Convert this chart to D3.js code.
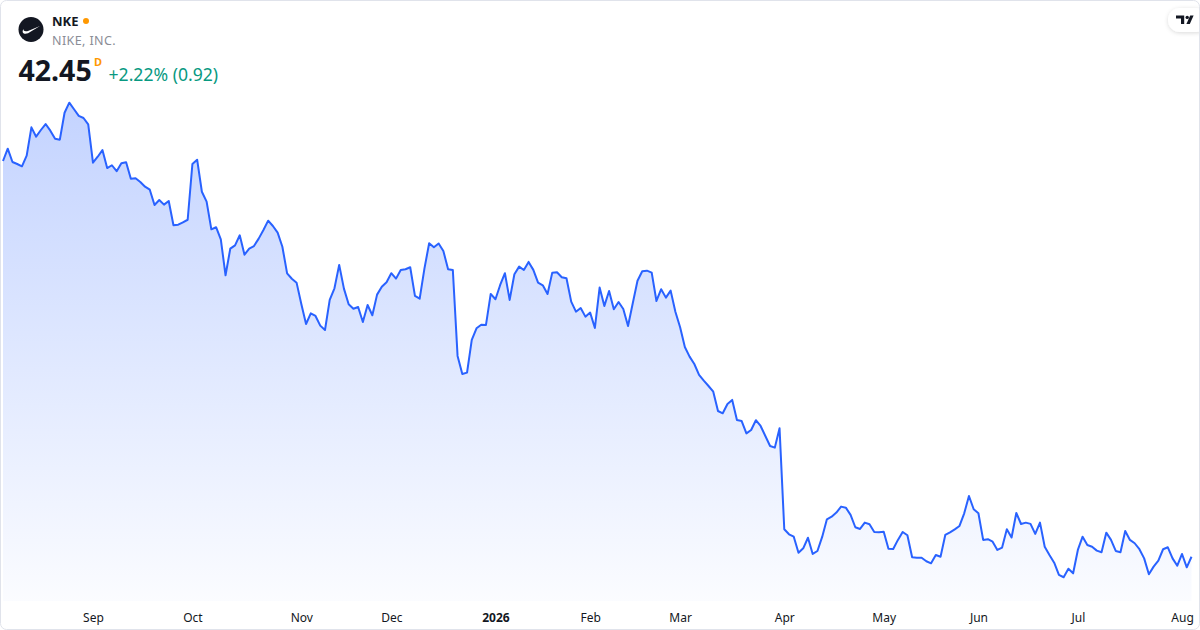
<!DOCTYPE html>
<html>
<head>
<meta charset="utf-8">
<script src="https://cdn.jsdelivr.net/npm/d3@7.9.0/dist/d3.min.js"></script>
<style>
  html, body { margin: 0; padding: 0; background: #fff; }
  #chart svg { display: block; font-family: "Noto Sans", "Open Sans", sans-serif; }
</style>
</head>
<body>
<div id="chart"></div>
<script>
// daily closes, one per trading day (Aug 2025 -> Aug 2026)
const closes = [
  76.80, 77.87, 76.71, 76.54, 76.34, 77.26, 79.72, 78.91, 79.49, 80.01,
  79.43, 78.73, 78.65, 80.99, 81.86, 81.29, 80.71, 80.53, 79.98, 76.65,
  77.17, 77.75, 76.19, 76.43, 75.91, 76.60, 76.69, 75.26, 75.30, 74.98,
  74.57, 74.31, 72.98, 73.41, 73.01, 73.33, 71.22, 71.27, 71.48, 71.70,
  76.54, 76.91, 74.13, 73.27, 70.87, 71.05, 70.00, 66.88, 69.19, 69.48,
  70.35, 68.67, 69.20, 69.42, 70.06, 70.81, 71.62, 71.16, 70.58, 69.36,
  67.05, 66.58, 66.24, 64.39, 62.65, 63.58, 63.35, 62.51, 62.13, 64.74,
  65.75, 67.78, 65.72, 64.36, 63.98, 64.13, 62.83, 64.30, 63.41, 65.20,
  65.89, 66.28, 67.06, 66.59, 67.34, 67.40, 67.58, 65.09, 64.85, 67.46,
  69.66, 69.31, 69.64, 68.99, 67.40, 67.34, 59.88, 58.31, 58.43, 61.27,
  62.28, 62.59, 62.57, 65.26, 64.80, 66.04, 67.06, 64.74, 66.97, 67.63,
  67.34, 68.04, 67.35, 66.24, 66.01, 65.26, 67.11, 67.14, 66.71, 66.62,
  64.59, 63.72, 64.04, 63.29, 63.64, 62.31, 65.81, 64.22, 65.52, 63.93,
  64.56, 63.95, 62.48, 64.45, 66.41, 67.23, 67.28, 67.11, 64.65, 65.67,
  64.94, 65.55, 63.72, 62.37, 60.66, 59.82, 59.18, 58.23, 57.73, 57.27,
  56.78, 55.10, 54.90, 55.71, 56.06, 54.32, 54.23, 53.16, 53.45, 54.30,
  53.80, 52.93, 52.06, 51.92, 53.60, 44.83, 44.40, 44.19, 42.80, 43.18,
  44.10, 42.69, 42.95, 44.17, 45.70, 45.93, 46.28, 46.80, 46.71, 46.08,
  45.01, 44.86, 45.41, 45.27, 44.60, 44.57, 44.61, 43.15, 43.12, 43.91,
  44.60, 44.31, 42.40, 42.37, 42.36, 42.06, 41.88, 42.60, 42.45, 44.34,
  44.57, 44.83, 45.12, 46.22, 47.72, 46.57, 46.22, 43.91, 43.97, 43.76,
  43.04, 43.25, 44.83, 44.12, 46.25, 45.29, 45.41, 45.30, 44.43, 45.41,
  43.32, 42.60, 41.93, 40.87, 40.67, 41.41, 41.01, 43.04, 44.19, 43.47,
  43.32, 42.98, 42.84, 44.54, 43.91, 42.95, 42.84, 44.69, 43.91, 43.62,
  43.10, 42.31, 40.93, 41.59, 42.11, 43.10, 43.27, 42.31, 41.67, 42.69,
  41.53, 42.45
];

// month labels and the trading-day index they sit on
const tickLabels = ['Sep', 'Oct', 'Nov', 'Dec', '2026', 'Feb', 'Mar', 'Apr', 'May', 'Jun', 'Jul', 'Aug'];
const tickIndex  = [19, 40, 63, 82, 104, 124, 143, 165, 186, 206, 227, 249];

const symbol = 'NKE';
const company = 'NIKE, INC.';
const lastPrice = '42.45';
const change = '+2.22% (0.92)';

const width = 1200;
const height = 630;
const plotBottom = 601;

const svg = d3.select('#chart')
  .append('svg')
  .attr('width', width)
  .attr('height', height)
  .attr('viewBox', `0 0 ${width} ${height}`);

const defs = svg.append('defs');

const grad = defs.append('linearGradient')
  .attr('id', 'areaFill')
  .attr('gradientUnits', 'userSpaceOnUse')
  .attr('x1', 0).attr('x2', 0)
  .attr('y1', 100).attr('y2', plotBottom);
grad.append('stop').attr('offset', 0).attr('stop-color', '#2962ff').attr('stop-opacity', 0.28);
grad.append('stop').attr('offset', 1).attr('stop-color', '#2962ff').attr('stop-opacity', 0.02);

const shadow = defs.append('filter')
  .attr('id', 'pillShadow')
  .attr('x', '-50%').attr('y', '-50%')
  .attr('width', '200%').attr('height', '200%');
shadow.append('feDropShadow')
  .attr('dx', 0).attr('dy', 1)
  .attr('stdDeviation', 2)
  .attr('flood-color', '#000')
  .attr('flood-opacity', 0.15);

const xScale = d3.scaleLinear()
  .domain([0, closes.length - 1])
  .range([3, 1191.5]);

const yScale = d3.scaleLinear()
  .domain([38, 86])
  .range([608, 55]);

// area + line
const area = d3.area()
  .x((d, i) => xScale(i))
  .y0(plotBottom)
  .y1((d) => yScale(d));

const line = d3.line()
  .x((d, i) => xScale(i))
  .y((d) => yScale(d));

svg.append('path')
  .datum(closes)
  .attr('d', area)
  .attr('fill', 'url(#areaFill)');

svg.append('path')
  .datum(closes)
  .attr('d', line)
  .attr('fill', 'none')
  .attr('stroke', '#2962ff')
  .attr('stroke-width', 2)
  .attr('stroke-linejoin', 'round');

// x axis (labels only)
const xAxis = d3.axisBottom(xScale)
  .tickValues(tickIndex)
  .tickFormat((d, i) => tickLabels[i])
  .tickSize(0)
  .tickPadding(0);

const gx = svg.append('g')
  .attr('transform', 'translate(0, 613)')
  .call(xAxis);

gx.select('.domain').remove();
gx.selectAll('text')
  .attr('dy', '0.71em')
  .attr('font-family', '"Noto Sans", "Open Sans", sans-serif')
  .attr('font-size', 12)
  .attr('fill', '#131722')
  .attr('font-weight', (d, i) => (tickLabels[i] === '2026' ? 700 : 400));

// header
const header = svg.append('g');

header.append('circle')
  .attr('cx', 31).attr('cy', 29.5).attr('r', 12.5)
  .attr('fill', '#131722');

header.append('path')
  .attr('transform', 'translate(31, 29.5)')
  .attr('d', 'M-7.5,-0.5 C-9.8,3.2 -7.2,5.2 -3,3.8 L9,-3.6 L-2.4,1.2 C-5.6,2.4 -7.8,1.6 -7.5,-0.5 Z')
  .attr('fill', '#fff');

header.append('text')
  .attr('x', 52).attr('y', 25.7)
  .attr('font-size', 13).attr('font-weight', 700)
  .attr('fill', '#131722')
  .text(symbol);

header.append('circle')
  .attr('cx', 86).attr('cy', 21).attr('r', 3)
  .attr('fill', '#ff9800');

header.append('text')
  .attr('x', 52).attr('y', 45)
  .attr('font-size', 12.5)
  .attr('letter-spacing', 0.4)
  .attr('fill', '#8a8d96')
  .text(company);

header.append('text')
  .attr('x', 18.5).attr('y', 80.5)
  .attr('font-size', 28.5).attr('font-weight', 700)
  .attr('fill', '#131722')
  .text(lastPrice);

header.append('text')
  .attr('x', 94).attr('y', 65.5)
  .attr('font-size', 11).attr('font-weight', 700)
  .attr('fill', '#ff9800')
  .text('D');

header.append('text')
  .attr('x', 108.5).attr('y', 80.5)
  .attr('font-size', 17.6)
  .attr('fill', '#089981')
  .text(change);

// TradingView badge, top right
const badge = svg.append('g');
badge.append('rect')
  .attr('x', 1168).attr('y', 8)
  .attr('width', 40).attr('height', 24)
  .attr('rx', 12)
  .attr('fill', '#fff')
  .attr('filter', 'url(#pillShadow)');
badge.append('path')
  .attr('d', 'M1176,15.5 H1184.2 V24 H1181 V18.4 H1176 Z')
  .attr('fill', '#131722');
badge.append('circle')
  .attr('cx', 1187.2).attr('cy', 17.4).attr('r', 1.7)
  .attr('fill', '#131722');
badge.append('path')
  .attr('d', 'M1190.2,15.5 H1193.6 L1189.8,24 H1186.4 Z')
  .attr('fill', '#131722');

// frame
svg.append('rect')
  .attr('x', 0.5).attr('y', 0.5)
  .attr('width', width - 1).attr('height', height - 1)
  .attr('rx', 6)
  .attr('fill', 'none')
  .attr('stroke', '#e0e3eb');
</script>
</body>
</html>
